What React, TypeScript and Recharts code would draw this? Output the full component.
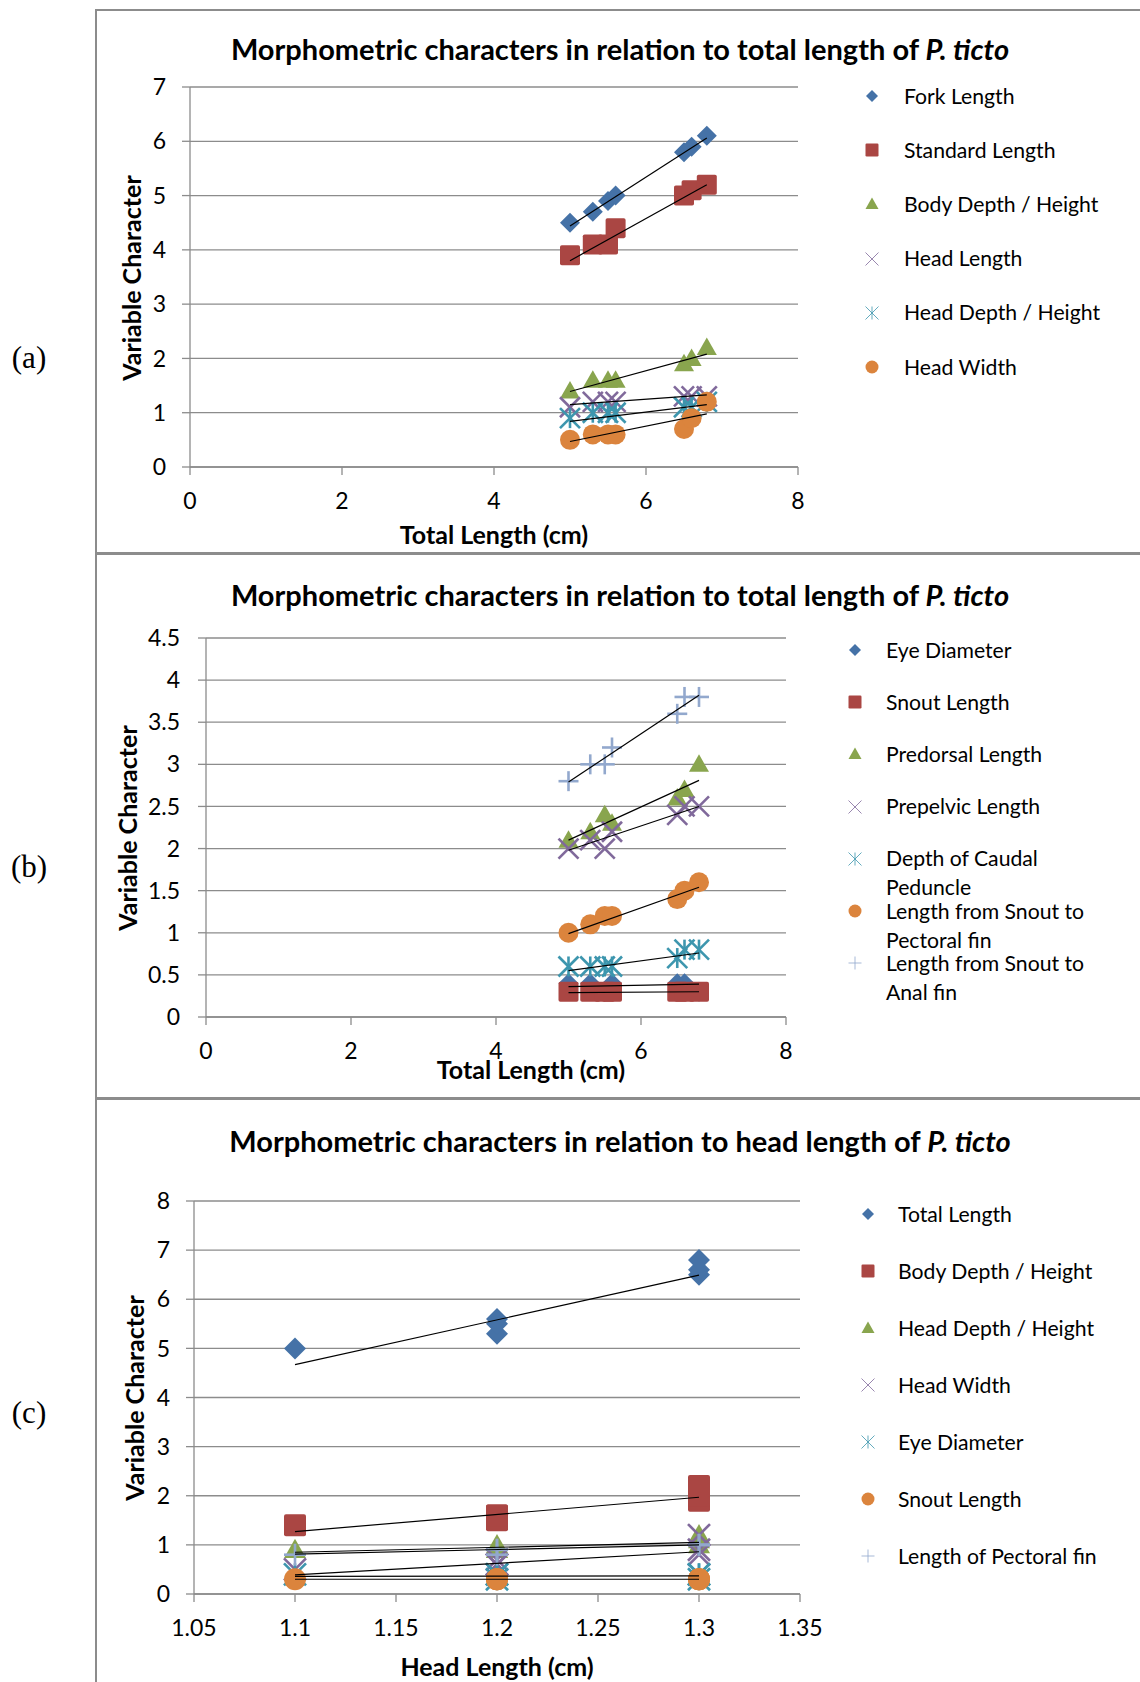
import React from 'react';
import { ScatterChart, Scatter, XAxis, YAxis, CartesianGrid } from 'recharts';

const FONT = 'Lato, "Open Sans", sans-serif';

// ---- (a) characters vs total length ----
const totalLengthA = [5.0, 5.3, 5.5, 5.6, 6.5, 6.6, 6.8];
const forkLengthA = [4.5, 4.7, 4.9, 5.0, 5.8, 5.9, 6.1];
const standardLengthA = [3.9, 4.1, 4.1, 4.4, 5.0, 5.1, 5.2];
const bodyDepthA = [1.4, 1.6, 1.6, 1.6, 1.9, 2.0, 2.2];
const headLengthA = [1.1, 1.2, 1.2, 1.2, 1.3, 1.3, 1.3];
const headDepthA = [0.9, 1.0, 1.0, 1.0, 1.1, 1.1, 1.2];
const headWidthA = [0.5, 0.6, 0.6, 0.6, 0.7, 0.9, 1.2];
// trendline values at min / max x
const trendForkA = [4.44, 6.06];
const trendStandardA = [3.8, 5.2];
const trendBodyDepthA = [1.39, 2.08];
const trendHeadLengthA = [1.15, 1.33];
const trendHeadDepthA = [0.84, 1.15];
const trendHeadWidthA = [0.47, 0.98];
const xTicksA = [0, 2, 4, 6, 8];
const yTicksA = [0, 1, 2, 3, 4, 5, 6, 7];

// ---- (b) characters vs total length ----
const totalLengthB = [5.0, 5.3, 5.5, 5.6, 6.5, 6.6, 6.8];
const eyeDiameterB = [0.4, 0.4, 0.3, 0.4, 0.4, 0.4, 0.3];
const snoutLengthB = [0.3, 0.3, 0.3, 0.3, 0.3, 0.3, 0.3];
const predorsalB = [2.1, 2.2, 2.4, 2.3, 2.6, 2.7, 3.0];
const prepelvicB = [2.0, 2.1, 2.0, 2.2, 2.4, 2.5, 2.5];
const caudalDepthB = [0.6, 0.6, 0.6, 0.6, 0.7, 0.8, 0.8];
const snoutPectoralB = [1.0, 1.1, 1.2, 1.2, 1.4, 1.5, 1.6];
const snoutAnalB = [2.8, 3.0, 3.0, 3.2, 3.6, 3.8, 3.8];
const trendEyeB = [0.36, 0.39];
const trendSnoutB = [0.29, 0.3];
const trendPredorsalB = [2.1, 2.81];
const trendPrepelvicB = [1.98, 2.5];
const trendCaudalB = [0.55, 0.76];
const trendPectoralB = [0.99, 1.54];
const trendAnalB = [2.79, 3.82];
const xTicksB = [0, 2, 4, 6, 8];
const yTicksB = [0, 0.5, 1, 1.5, 2, 2.5, 3, 3.5, 4, 4.5];

// ---- (c) characters vs head length ----
const headLengthC = [1.1, 1.2, 1.2, 1.2, 1.3, 1.3, 1.3];
const totalLengthC = [5.0, 5.3, 5.5, 5.6, 6.5, 6.6, 6.8];
const bodyDepthC = [1.4, 1.6, 1.5, 1.6, 1.9, 2.0, 2.2];
const headDepthC = [0.9, 0.9, 1.0, 0.9, 1.0, 1.1, 1.2];
const headWidthC = [0.5, 0.6, 0.7, 0.6, 0.8, 0.9, 1.2];
const eyeDiameterC = [0.4, 0.3, 0.4, 0.4, 0.3, 0.4, 0.4];
const snoutLengthC = [0.3, 0.3, 0.3, 0.3, 0.3, 0.3, 0.3];
const pectoralFinC = [0.8, 0.9, 0.9, 0.8, 1.0, 1.0, 1.0];
const trendTotalC = [4.67, 6.49];
const trendBodyDepthC = [1.27, 1.97];
const trendHeadDepthC = [0.85, 1.05];
const trendHeadWidthC = [0.39, 0.86];
const trendEyeC = [0.36, 0.37];
const trendSnoutC = [0.3, 0.3];
const trendPectoralC = [0.81, 1.0];
const xTicksC = [1.05, 1.1, 1.15, 1.2, 1.25, 1.3, 1.35];
const yTicksC = [0, 1, 2, 3, 4, 5, 6, 7, 8];

const BLUE = '#4572A7';
const RED = '#AA4643';
const GREEN = '#89A54E';
const PURPLE = '#80699B';
const TEAL = '#3D96AE';
const ORANGE = '#DB843D';
const LIGHTBLUE = '#92A8CD';

type Kind = 'diamond' | 'square' | 'triangle' | 'cross' | 'star' | 'circle' | 'plus';

interface Series {
  name: string;
  values: number[];
  trend: number[];
  color: string;
  kind: Kind;
}

function Marker({ kind, cx, cy, r, color, thin = false }: { kind: Kind; cx: number; cy: number; r: number; color: string; thin?: boolean }) {
  const sw = thin ? 1 : 2.6;
  switch (kind) {
    case 'diamond':
      return <polygon points={`${cx},${cy - r} ${cx + r},${cy} ${cx},${cy + r} ${cx - r},${cy}`} fill={color} />;
    case 'square':
      return <rect x={cx - r} y={cy - r} width={2 * r} height={2 * r} rx={r * 0.18} fill={color} />;
    case 'triangle':
      return <polygon points={`${cx},${cy - r} ${cx + r},${cy + r * 0.75} ${cx - r},${cy + r * 0.75}`} fill={color} />;
    case 'circle':
      return <circle cx={cx} cy={cy} r={r} fill={color} />;
    case 'cross':
      return (
        <g stroke={color} strokeWidth={sw}>
          <line x1={cx - r} y1={cy - r} x2={cx + r} y2={cy + r} />
          <line x1={cx - r} y1={cy + r} x2={cx + r} y2={cy - r} />
        </g>
      );
    case 'star':
      return (
        <g stroke={color} strokeWidth={sw}>
          <line x1={cx - r} y1={cy - r} x2={cx + r} y2={cy + r} />
          <line x1={cx - r} y1={cy + r} x2={cx + r} y2={cy - r} />
          <line x1={cx} y1={cy - r} x2={cx} y2={cy + r} />
        </g>
      );
    case 'plus':
      return (
        <g stroke={color} strokeWidth={sw}>
          <line x1={cx - r} y1={cy} x2={cx + r} y2={cy} />
          <line x1={cx} y1={cy - r} x2={cx} y2={cy + r} />
        </g>
      );
  }
  return null;
}

const seriesA: Series[] = [
  { name: 'Fork Length', values: forkLengthA, trend: trendForkA, color: BLUE, kind: 'diamond' },
  { name: 'Standard Length', values: standardLengthA, trend: trendStandardA, color: RED, kind: 'square' },
  { name: 'Body Depth / Height', values: bodyDepthA, trend: trendBodyDepthA, color: GREEN, kind: 'triangle' },
  { name: 'Head Length', values: headLengthA, trend: trendHeadLengthA, color: PURPLE, kind: 'cross' },
  { name: 'Head Depth / Height', values: headDepthA, trend: trendHeadDepthA, color: TEAL, kind: 'star' },
  { name: 'Head Width', values: headWidthA, trend: trendHeadWidthA, color: ORANGE, kind: 'circle' },
];

const seriesB: Series[] = [
  { name: 'Eye Diameter', values: eyeDiameterB, trend: trendEyeB, color: BLUE, kind: 'diamond' },
  { name: 'Snout Length', values: snoutLengthB, trend: trendSnoutB, color: RED, kind: 'square' },
  { name: 'Predorsal Length', values: predorsalB, trend: trendPredorsalB, color: GREEN, kind: 'triangle' },
  { name: 'Prepelvic Length', values: prepelvicB, trend: trendPrepelvicB, color: PURPLE, kind: 'cross' },
  { name: 'Depth of Caudal\nPeduncle', values: caudalDepthB, trend: trendCaudalB, color: TEAL, kind: 'star' },
  { name: 'Length from Snout to\nPectoral fin', values: snoutPectoralB, trend: trendPectoralB, color: ORANGE, kind: 'circle' },
  { name: 'Length from Snout to\nAnal fin', values: snoutAnalB, trend: trendAnalB, color: LIGHTBLUE, kind: 'plus' },
];

const seriesC: Series[] = [
  { name: 'Total Length', values: totalLengthC, trend: trendTotalC, color: BLUE, kind: 'diamond' },
  { name: 'Body Depth / Height', values: bodyDepthC, trend: trendBodyDepthC, color: RED, kind: 'square' },
  { name: 'Head Depth / Height', values: headDepthC, trend: trendHeadDepthC, color: GREEN, kind: 'triangle' },
  { name: 'Head Width', values: headWidthC, trend: trendHeadWidthC, color: PURPLE, kind: 'cross' },
  { name: 'Eye Diameter', values: eyeDiameterC, trend: trendEyeC, color: TEAL, kind: 'star' },
  { name: 'Snout Length', values: snoutLengthC, trend: trendSnoutC, color: ORANGE, kind: 'circle' },
  { name: 'Length of Pectoral fin', values: pectoralFinC, trend: trendPectoralC, color: LIGHTBLUE, kind: 'plus' },
];

interface PanelProps {
  top: number;
  height: number;
  plot: { l: number; r: number; t: number; b: number };
  xValues: number[];
  xDomain: [number, number];
  xTicks: number[];
  yDomain: [number, number];
  yTicks: number[];
  yTickMargin: number;
  series: Series[];
  markerSize: number;
}

const CHART_W = 840;

function Panel({ top, height, plot, xValues, xDomain, xTicks, yDomain, yTicks, yTickMargin, series, markerSize }: PanelProps) {
  const margin = { top: plot.t - top, left: plot.l - 60, right: CHART_W - plot.r, bottom: top + height - plot.b - 60 };
  const xMin = Math.min(...xValues);
  const xMax = Math.max(...xValues);
  const tickStyle = { fontSize: 23, fill: '#000', fontFamily: FONT };
  return (
    <div style={{ position: 'absolute', left: 0, top }}>
      <ScatterChart width={CHART_W} height={height} margin={margin}>
        <CartesianGrid vertical={false} stroke="#8c8c8c" strokeWidth={1.3} />
        <XAxis type="number" dataKey="x" domain={xDomain} ticks={xTicks} interval={0} allowDataOverflow
          height={60} tickSize={8} tickMargin={18} stroke="#8c8c8c" strokeWidth={1.3} tick={tickStyle}
          tickFormatter={(v: number) => String(v)} />
        <YAxis type="number" dataKey="y" domain={yDomain} ticks={yTicks} interval={0} allowDataOverflow
          width={60} tickSize={8} tickMargin={yTickMargin} stroke="#8c8c8c" strokeWidth={1.3} tick={tickStyle}
          tickFormatter={(v: number) => String(v)} />
        {series.map((s) => (
          <Scatter key={s.name} name={s.name} isAnimationActive={false}
            data={xValues.map((x, i) => ({ x, y: s.values[i] }))}
            shape={(p: any) => <Marker kind={s.kind} cx={p.cx} cy={p.cy} r={markerSize} color={s.color} />} />
        ))}
        {series.map((s) => (
          <Scatter key={s.name + '-trend'} isAnimationActive={false} legendType="none"
            data={[{ x: xMin, y: s.trend[0] }, { x: xMax, y: s.trend[1] }]}
            line={{ stroke: '#000', strokeWidth: 1.2 }} shape={() => <g />} />
        ))}
      </ScatterChart>
    </div>
  );
}

function Legend({ series, markerX, textX, y0, step }: { series: Series[]; markerX: number; textX: number; y0: number; step: number }) {
  return (
    <>
      {series.map((s, i) => {
        const y = y0 + i * step;
        const thin = s.kind === 'cross' || s.kind === 'star' || s.kind === 'plus';
        return (
          <React.Fragment key={s.name}>
            <svg style={{ position: 'absolute', left: markerX - 9, top: y - 9 }} width={18} height={18}>
              <Marker kind={s.kind} cx={9} cy={9} r={thin ? 6.5 : s.kind === 'diamond' ? 6 : 6.5} color={thin ? s.color + 'cc' : s.color} thin={thin} />
            </svg>
            <div style={{ position: 'absolute', left: textX, top: y - 14.5, fontFamily: FONT, fontSize: 21.2, lineHeight: '29px', whiteSpace: 'pre', color: '#000' }}>
              {s.name}
            </div>
          </React.Fragment>
        );
      })}
    </>
  );
}

function Title({ cy, text }: { cy: number; text: string }) {
  return (
    <div style={{ position: 'absolute', left: 170, width: 900, top: cy - 20, lineHeight: '40px', textAlign: 'center', fontFamily: FONT, fontWeight: 700, fontSize: 29, color: '#000', whiteSpace: 'nowrap' }}>
      {text} <i>P. ticto</i>
    </div>
  );
}

function AxisTitle({ cx, cy, text, vertical = false }: { cx: number; cy: number; text: string; vertical?: boolean }) {
  return (
    <div style={{ position: 'absolute', left: cx, top: cy, transform: `translate(-50%, -50%)${vertical ? ' rotate(-90deg)' : ''}`, fontFamily: FONT, fontWeight: 700, fontSize: 25, lineHeight: '30px', whiteSpace: 'nowrap', color: '#000' }}>
      {text}
    </div>
  );
}

function PanelTag({ cy, text }: { cy: number; text: string }) {
  return (
    <div style={{ position: 'absolute', left: 29, top: cy, transform: 'translate(-50%, -50%)', fontFamily: '"Liberation Serif", "Times New Roman", serif', fontSize: 31, color: '#000' }}>
      {text}
    </div>
  );
}

const line = (style: React.CSSProperties) => <div style={{ position: 'absolute', background: '#8c8c8c', ...style }} />;

export default function App() {
  return (
    <div style={{ position: 'absolute', left: 0, top: 0, width: 1140, height: 1682, background: '#fff', overflow: 'hidden' }}>
      {line({ left: 95, top: 9, width: 2, height: 1673 })}
      {line({ left: 95, top: 9, width: 1045, height: 2 })}
      {line({ left: 95, top: 552, width: 1045, height: 3 })}
      {line({ left: 95, top: 1097, width: 1045, height: 3 })}

      <PanelTag cy={358} text="(a)" />
      <PanelTag cy={867} text="(b)" />
      <PanelTag cy={1413} text="(c)" />

      <Title cy={49} text="Morphometric characters in relation to total length of" />
      <Title cy={595} text="Morphometric characters in relation to total length of" />
      <Title cy={1141} text="Morphometric characters in relation to head length of" />

      <Panel top={20} height={520} plot={{ l: 190, r: 798, t: 87, b: 467 }} xValues={totalLengthA}
        xDomain={[0, 8]} xTicks={xTicksA} yDomain={[0, 7]} yTicks={yTicksA} yTickMargin={16}
        series={seriesA} markerSize={10} />
      <Panel top={570} height={510} plot={{ l: 206, r: 786, t: 638, b: 1017 }} xValues={totalLengthB}
        xDomain={[0, 8]} xTicks={xTicksB} yDomain={[0, 4.5]} yTicks={yTicksB} yTickMargin={18}
        series={seriesB} markerSize={10} />
      <Panel top={1160} height={500} plot={{ l: 194, r: 800, t: 1201, b: 1594 }} xValues={headLengthC}
        xDomain={[1.05, 1.35]} xTicks={xTicksC} yDomain={[0, 8]} yTicks={yTicksC} yTickMargin={16}
        series={seriesC} markerSize={11} />

      <AxisTitle cx={494} cy={534} text="Total Length (cm)" />
      <AxisTitle cx={131} cy={278} text="Variable Character" vertical />
      <AxisTitle cx={531} cy={1069} text="Total Length (cm)" />
      <AxisTitle cx={127} cy={828} text="Variable Character" vertical />
      <AxisTitle cx={497} cy={1666} text="Head Length (cm)" />
      <AxisTitle cx={134} cy={1398} text="Variable Character" vertical />

      <Legend series={seriesA} markerX={872} textX={904} y0={96} step={54.2} />
      <Legend series={seriesB} markerX={855} textX={886} y0={650} step={52.2} />
      <Legend series={seriesC} markerX={868} textX={898} y0={1214} step={57} />
    </div>
  );
}
